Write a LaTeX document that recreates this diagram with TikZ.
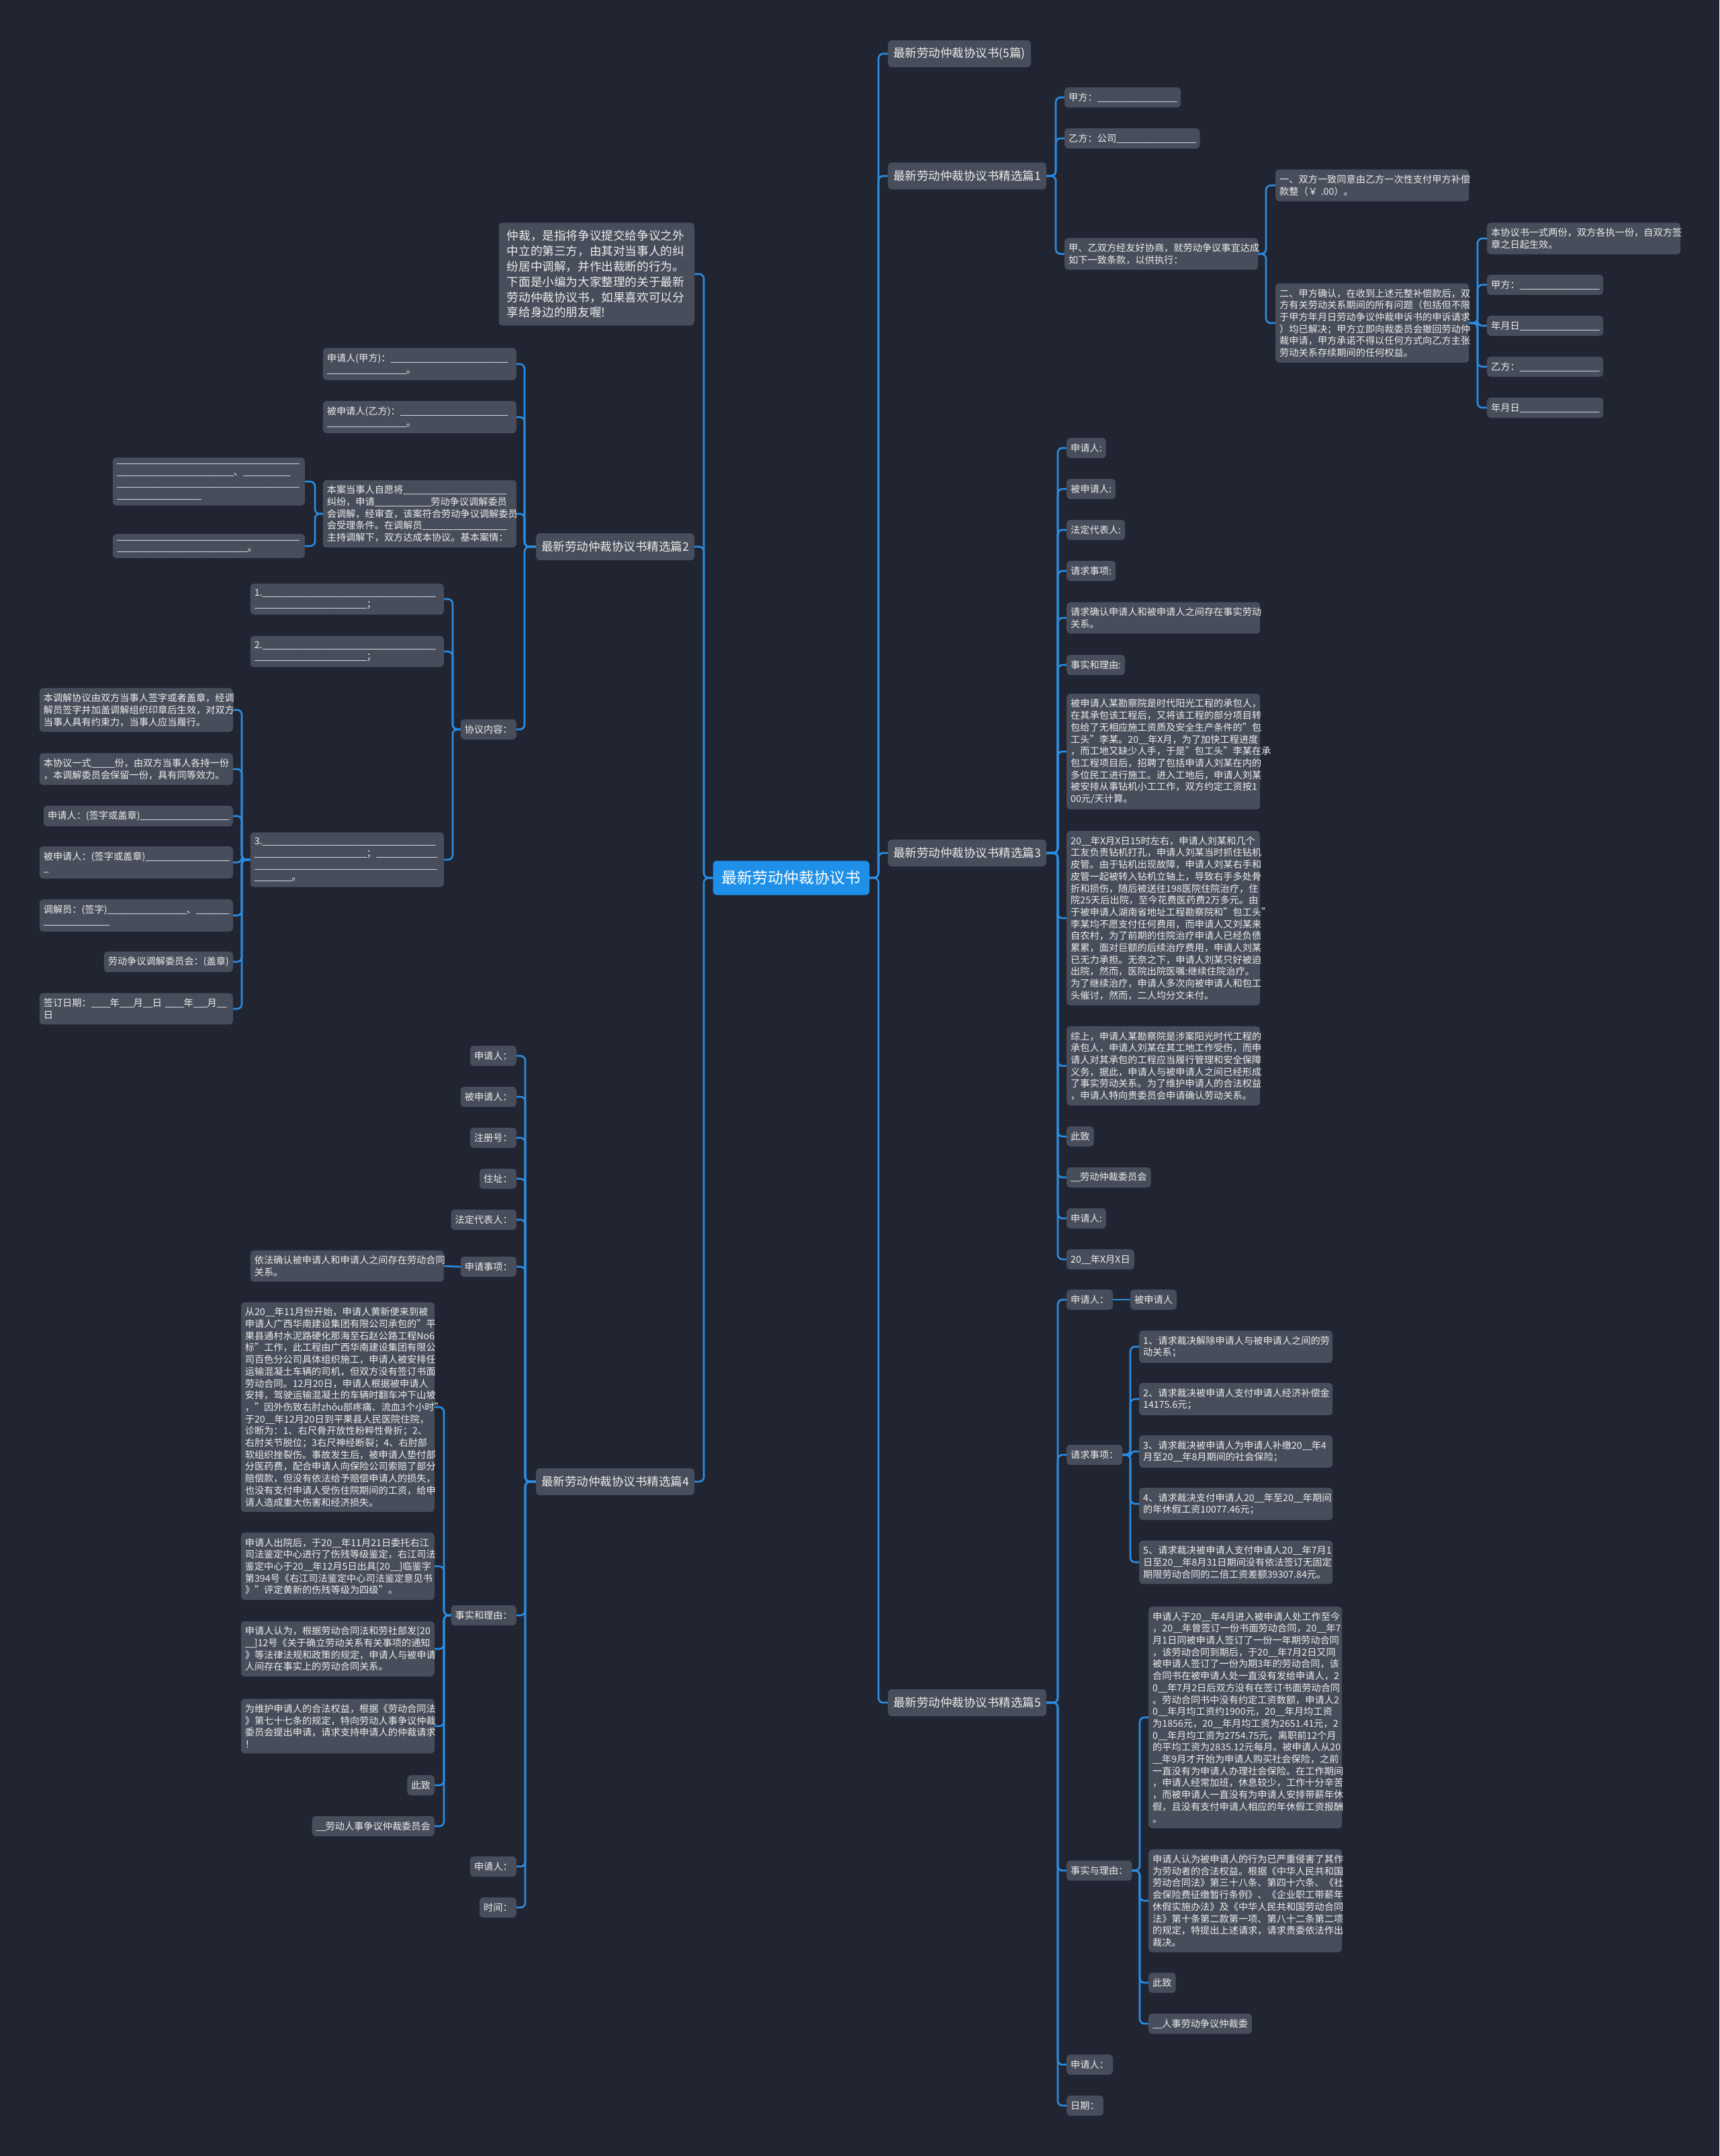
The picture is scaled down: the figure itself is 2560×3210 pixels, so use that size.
\documentclass[tikz,border=0pt]{standalone}
\usepackage{fontspec}
\setmainfont{Noto Sans CJK SC}
\newcommand\uu{\makebox[0.49em][l]{\_}}
\ExplSyntaxOn
\NewDocumentCommand\usc{m}{\prg_replicate:nn{#1}{\uu}}
\ExplSyntaxOff
\definecolor{bg}{HTML}{212531}
\definecolor{nodefill}{HTML}{474D5A}
\definecolor{linkc}{HTML}{2A8DE4}
\definecolor{rootc}{HTML}{1E90EA}
\definecolor{txt}{HTML}{EEEEEE}
\newcommand\linkR[3]{\draw[link] (#1.east) -- (#1.east -| #3) |- (#2.west);}
\newcommand\linkL[3]{\draw[link] (#1.west) -- (#1.west -| #3) |- (#2.east);}
\tikzset{
 box/.style={fill=nodefill, rounded corners=5pt, text=txt, font=\fontsize{14.2pt}{17.7pt}\selectfont, inner xsep=6pt, inner ysep=8pt, align=left, minimum height=30pt},
 wbox/.style={box, text width=276pt},
 l1/.style={fill=nodefill, rounded corners=5pt, text=txt, font=\fontsize{17.5pt}{22pt}\selectfont, inner xsep=8pt, minimum height=40pt},
 rootbox/.style={fill=rootc, rounded corners=6pt, text=white, font=\fontsize{23pt}{28pt}\selectfont, minimum width=233pt, minimum height=51pt},
 introbox/.style={fill=nodefill, rounded corners=5pt, text=txt, font=\fontsize{17.6pt}{22.9pt}\selectfont, inner xsep=12pt, inner ysep=11pt, align=left, text width=267pt},
 link/.style={draw=linkc, line width=2.6pt, rounded corners=7pt},
 rt/.style={anchor=west}, lt/.style={anchor=east}
}
\begin{document}
\begin{tikzpicture}[x=1pt,y=-1pt]
\fill[bg] (0,0) rectangle (2560,3210);
\useasboundingbox (0,0) rectangle (2560,3210);
% trunks
\coordinate (TR) at (1308,0);
\coordinate (TL) at (1048,0);
\coordinate (T1) at (1572,0);
\coordinate (T1a) at (1885,0);
\coordinate (T1b) at (2200,0);
\coordinate (T3) at (1575,0);
\coordinate (T5b) at (1683,0);
\coordinate (T5c) at (1697,0);
\coordinate (T2) at (781,0);
\coordinate (T2a) at (469,0);
\coordinate (T2b) at (674,0);
\coordinate (T2c) at (360,0);
\coordinate (T4) at (782,0);
\coordinate (T4b) at (661,0);

% root
\node[rootbox] (root) at (1178,1307) {最新劳动仲裁协议书};

% right level 1
\node[l1,rt] (r0) at (1322,80) {最新劳动仲裁协议书(5篇)};
\node[l1,rt] (r1) at (1322,262) {最新劳动仲裁协议书精选篇1};
\node[l1,rt] (r3) at (1322,1270) {最新劳动仲裁协议书精选篇3};
\node[l1,rt] (r5) at (1322,2535) {最新劳动仲裁协议书精选篇5};

% left level 1
\node[introbox,lt] (intro) at (1034,408) {仲裁，是指将争议提交给争议之外\\中立的第三方，由其对当事人的纠\\纷居中调解，并作出裁断的行为。\\下面是小编为大家整理的关于最新\\劳动仲裁协议书，如果喜欢可以分\\享给身边的朋友喔!};
\node[l1,lt] (l2) at (1034,814) {最新劳动仲裁协议书精选篇2};
\node[l1,lt] (l4) at (1034,2206) {最新劳动仲裁协议书精选篇4};

% ---- 篇1
\node[box,rt] (a1) at (1585,145) {甲方：\usc{17}};
\node[box,rt] (a2) at (1585,206) {乙方：公司\usc{17}};
\node[wbox,rt] (a3) at (1585,378) {甲、乙双方经友好协商，就劳动争议事宜达成\\如下一致条款，以供执行：};
\node[wbox,rt] (a31) at (1899,276) {一、双方一致同意由乙方一次性支付甲方补偿\\款整（￥~.00）。};
\node[wbox,rt] (a32) at (1899,481) {二、甲方确认，在收到上述元整补偿款后，双\\方有关劳动关系期间的所有问题（包括但不限\\于甲方年月日劳动争议仲裁申诉书的申诉请求\\）均已解决；甲方立即向裁委员会撤回劳动仲\\裁申请，甲方承诺不得以任何方式向乙方主张\\劳动关系存续期间的任何权益。};
\node[wbox,rt] (b1) at (2214,355) {本协议书一式两份，双方各执一份，自双方签\\章之日起生效。};
\node[box,rt] (b2) at (2214,424) {甲方：\usc{17}};
\node[box,rt] (b3) at (2214,485) {年月日\usc{17}};
\node[box,rt] (b4) at (2214,546) {乙方：\usc{17}};
\node[box,rt] (b5) at (2214,607) {年月日\usc{17}};

% ---- 篇3
\node[box,rt] (c1) at (1588,667) {申请人:};
\node[box,rt] (c2) at (1588,728) {被申请人:};
\node[box,rt] (c3) at (1588,789) {法定代表人:};
\node[box,rt] (c4) at (1588,850) {请求事项:};
\node[wbox,rt] (c5) at (1588,920) {请求确认申请人和被申请人之间存在事实劳动\\关系。};
\node[box,rt] (c6) at (1588,990) {事实和理由:};
\node[wbox,rt] (c7) at (1588,1119) {被申请人某勘察院是时代阳光工程的承包人，\\在其承包该工程后，又将该工程的部分项目转\\包给了无相应施工资质及安全生产条件的"包\\工头"李某。20\uu\uu 年X月，为了加快工程进度\\，而工地又缺少人手，于是"包工头"李某在承\\包工程项目后，招聘了包括申请人刘某在内的\\多位民工进行施工。进入工地后，申请人刘某\\被安排从事钻机小工工作，双方约定工资按1\\00元/天计算。};
\node[wbox,rt] (c8) at (1588,1367) {20\uu\uu 年X月X日15时左右，申请人刘某和几个\\工友负责钻机打孔，申请人刘某当时抓住钻机\\皮管。由于钻机出现故障，申请人刘某右手和\\皮管一起被转入钻机立轴上，导致右手多处骨\\折和损伤，随后被送往198医院住院治疗，住\\院25天后出院，至今花费医药费2万多元。由\\于被申请人湖南省地址工程勘察院和"包工头"\\李某均不愿支付任何费用，而申请人又刘某来\\自农村，为了前期的住院治疗申请人已经负债\\累累，面对巨额的后续治疗费用，申请人刘某\\已无力承担。无奈之下，申请人刘某只好被迫\\出院，然而，医院出院医嘱:继续住院治疗。\\为了继续治疗，申请人多次向被申请人和包工\\头催讨，然而，二人均分文未付。};
\node[wbox,rt] (c9) at (1588,1587) {综上，申请人某勘察院是涉案阳光时代工程的\\承包人，申请人刘某在其工地工作受伤，而申\\请人对其承包的工程应当履行管理和安全保障\\义务，据此，申请人与被申请人之间已经形成\\了事实劳动关系。为了维护申请人的合法权益\\，申请人特向贵委员会申请确认劳动关系。};
\node[box,rt] (c10) at (1588,1692) {此致};
\node[box,rt] (c11) at (1588,1753) {\uu\uu 劳动仲裁委员会};
\node[box,rt] (c12) at (1588,1814) {申请人:};
\node[box,rt] (c13) at (1588,1875) {20\uu\uu 年X月X日};

% ---- 篇5
\node[box,rt] (d1) at (1588,1935) {申请人：};
\node[box,rt] (d1a) at (1683,1935) {被申请人};
\node[box,rt] (d2) at (1588,2166) {请求事项：};
\node[wbox,rt] (d21) at (1696,2005) {1、请求裁决解除申请人与被申请人之间的劳\\动关系；};
\node[wbox,rt] (d22) at (1696,2083) {2、请求裁决被申请人支付申请人经济补偿金\\14175.6元；};
\node[wbox,rt] (d23) at (1696,2161) {3、请求裁决被申请人为申请人补缴20\uu\uu 年4\\月至20\uu\uu 年8月期间的社会保险；};
\node[wbox,rt] (d24) at (1696,2239) {4、请求裁决支付申请人20\uu\uu 年至20\uu\uu 年期间\\的年休假工资10077.46元；};
\node[wbox,rt] (d25) at (1696,2326) {5、请求裁决被申请人支付申请人20\uu\uu 年7月1\\日至20\uu\uu 年8月31日期间没有依法签订无固定\\期限劳动合同的二倍工资差额39307.84元。};
\node[box,rt] (d3) at (1588,2785) {事实与理由：};
\node[wbox,rt] (d31) at (1710,2557) {申请人于20\uu\uu 年4月进入被申请人处工作至今\\，20\uu\uu 年曾签订一份书面劳动合同，20\uu\uu 年7\\月1日同被申请人签订了一份一年期劳动合同\\，该劳动合同到期后，于20\uu\uu 年7月2日又同\\被申请人签订了一份为期3年的劳动合同，该\\合同书在被申请人处一直没有发给申请人，2\\0\uu\uu 年7月2日后双方没有在签订书面劳动合同\\。劳动合同书中没有约定工资数额，申请人2\\0\uu\uu 年月均工资约1900元，20\uu\uu 年月均工资\\为1856元，20\uu\uu 年月均工资为2651.41元，2\\0\uu\uu 年月均工资为2754.75元，离职前12个月\\的平均工资为2835.12元每月。被申请人从20\\\uu\uu 年9月才开始为申请人购买社会保险，之前\\一直没有为申请人办理社会保险。在工作期间\\，申请人经常加班，休息较少，工作十分辛苦\\，而被申请人一直没有为申请人安排带薪年休\\假，且没有支付申请人相应的年休假工资报酬\\。};
\node[wbox,rt] (d32) at (1710,2830) {申请人认为被申请人的行为已严重侵害了其作\\为劳动者的合法权益。根据《中华人民共和国\\劳动合同法》第三十八条、第四十六条、《社\\会保险费征缴暂行条例》、《企业职工带薪年\\休假实施办法》及《中华人民共和国劳动合同\\法》第十条第二款第一项、第八十二条第二项\\的规定，特提出上述请求，请求贵委依法作出\\裁决。};
\node[box,rt] (d33) at (1710,2952) {此致};
\node[box,rt] (d34) at (1710,3013) {\uu\uu 人事劳动争议仲裁委};
\node[box,rt] (d4) at (1588,3074) {申请人：};
\node[box,rt] (d5) at (1588,3135) {日期：};

% ---- 篇2
\node[wbox,lt] (e1) at (769,542) {申请人(甲方)：\usc{25}\\\usc{17}。};
\node[wbox,lt] (e2) at (769,621) {被申请人(乙方)：\usc{23}\\\usc{17}。};
\node[wbox,lt] (e3) at (769,765) {本案当事人自愿将\usc{22}\\纠纷，申请\usc{12}劳动争议调解委员\\会调解，经审查，该案符合劳动争议调解委员\\会受理条件。在调解员\usc{18}\\主持调解下，双方达成本协议。基本案情：};
\node[box,lt,text width=274pt] (e31) at (454,717) {\usc{39}\\\usc{25}、\usc{10}\\\usc{39}\\\usc{18}};
\node[box,lt,text width=274pt] (e32) at (454,813) {\usc{39}\\\usc{28}。};
\node[box,lt] (e4) at (769,1086) {协议内容：};
\node[wbox,lt] (e41) at (661,892) {1.\usc{37}\\\usc{24}；};
\node[wbox,lt] (e42) at (661,970) {2.\usc{37}\\\usc{24}；};
\node[wbox,lt] (e43) at (661,1280) {3.\usc{37}\\\usc{24}；\usc{13}\\\usc{39}\\\usc{8}。};
\node[wbox,lt] (f1) at (347,1057) {本调解协议由双方当事人签字或者盖章，经调\\解员签字并加盖调解组织印章后生效，对双方\\当事人具有约束力，当事人应当履行。};
\node[wbox,lt] (f2) at (347,1145) {本协议一式\usc{5}份，由双方当事人各持一份\\，本调解委员会保留一份，具有同等效力。};
\node[box,lt] (f3) at (347,1215) {申请人：(签字或盖章)\usc{19}};
\node[wbox,lt] (f4) at (347,1284) {被申请人：(签字或盖章)\usc{18}\\\uu};
\node[wbox,lt] (f5) at (347,1363) {调解员：(签字)\usc{17}、\usc{7}\\\usc{14}};
\node[box,lt] (f6) at (347,1432) {劳动争议调解委员会：(盖章)};
\node[wbox,lt] (f7) at (347,1502) {签订日期：\usc{4}年\usc{3}月\usc{2}日~\usc{4}年\usc{3}月\usc{2}\\日};

% ---- 篇4
\node[box,lt] (g1) at (769,1572) {申请人：};
\node[box,lt] (g2) at (769,1633) {被申请人：};
\node[box,lt] (g3) at (769,1694) {注册号：};
\node[box,lt] (g4) at (769,1755) {住址：};
\node[box,lt] (g5) at (769,1816) {法定代表人：};
\node[box,lt] (g6) at (769,1886) {申请事项：};
\node[wbox,lt] (g6a) at (661,1885) {依法确认被申请人和申请人之间存在劳动合同\\关系。};
\node[box,lt] (g7) at (769,2405) {事实和理由：};
\node[wbox,lt] (g71) at (647,2095) {从20\uu\uu 年11月份开始，申请人黄新便来到被\\申请人广西华南建设集团有限公司承包的"平\\果县通村水泥路硬化那海至石赵公路工程No6\\标"工作，此工程由广西华南建设集团有限公\\司百色分公司具体组织施工，申请人被安排任\\运输混凝土车辆的司机，但双方没有签订书面\\劳动合同。12月20日，申请人根据被申请人\\安排，驾驶运输混凝土的车辆时翻车冲下山坡\\，"因外伤致右肘zhǒu部疼痛、流血3个小时"\\于20\uu\uu 年12月20日到平果县人民医院住院，\\诊断为：1、右尺骨开放性粉粹性骨折；2、\\右肘关节脱位；3右尺神经断裂；4、右肘部\\软组织挫裂伤。事故发生后，被申请人垫付部\\分医药费，配合申请人向保险公司索赔了部分\\赔偿款，但没有依法给予赔偿申请人的损失，\\也没有支付申请人受伤住院期间的工资，给申\\请人造成重大伤害和经济损失。};
\node[wbox,lt] (g72) at (647,2332) {申请人出院后，于20\uu\uu 年11月21日委托右江\\司法鉴定中心进行了伤残等级鉴定，右江司法\\鉴定中心于20\uu\uu 年12月5日出具[20\uu\uu]临鉴字\\第394号《右江司法鉴定中心司法鉴定意见书\\》"评定黄新的伤残等级为四级"。};
\node[wbox,lt] (g73) at (647,2455) {申请人认为，根据劳动合同法和劳社部发[20\\\uu\uu]12号《关于确立劳动关系有关事项的通知\\》等法律法规和政策的规定，申请人与被申请\\人间存在事实上的劳动合同关系。};
\node[wbox,lt] (g74) at (647,2570) {为维护申请人的合法权益，根据《劳动合同法\\》第七十七条的规定，特向劳动人事争议仲裁\\委员会提出申请，请求支持申请人的仲裁请求\\！};
\node[box,lt] (g75) at (647,2658) {此致};
\node[box,lt] (g76) at (647,2719) {\uu\uu 劳动人事争议仲裁委员会};
\node[box,lt] (g8) at (769,2779) {申请人：};
\node[box,lt] (g9) at (769,2840) {时间：};

% ---- connectors
\foreach \c in {r0,r1,r3,r5} {\linkR{root}{\c}{TR}}
\foreach \c in {intro,l2,l4} {\linkL{root}{\c}{TL}}
\foreach \c in {a1,a2,a3} {\linkR{r1}{\c}{T1}}
\foreach \c in {a31,a32} {\linkR{a3}{\c}{T1a}}
\foreach \c in {b1,b2,b3,b4,b5} {\linkR{a32}{\c}{T1b}}
\foreach \c in {c1,c2,c3,c4,c5,c6,c7,c8,c9,c10,c11,c12,c13} {\linkR{r3}{\c}{T3}}
\foreach \c in {d1,d2,d3,d4,d5} {\linkR{r5}{\c}{T3}}
\draw[link] (d1.east) -- (d1a.west);
\foreach \c in {d21,d22,d23,d24,d25} {\linkR{d2}{\c}{T5b}}
\foreach \c in {d31,d32,d33,d34} {\linkR{d3}{\c}{T5c}}
\foreach \c in {e1,e2,e3,e4} {\linkL{l2}{\c}{T2}}
\foreach \c in {e31,e32} {\linkL{e3}{\c}{T2a}}
\foreach \c in {e41,e42,e43} {\linkL{e4}{\c}{T2b}}
\foreach \c in {f1,f2,f3,f4,f5,f6,f7} {\linkL{e43}{\c}{T2c}}
\foreach \c in {g1,g2,g3,g4,g5,g6,g7,g8,g9} {\linkL{l4}{\c}{T4}}
\draw[link] (g6.west) -- (g6a.east);
\foreach \c in {g71,g72,g73,g74,g75,g76} {\linkL{g7}{\c}{T4b}}
\end{tikzpicture}
\end{document}
